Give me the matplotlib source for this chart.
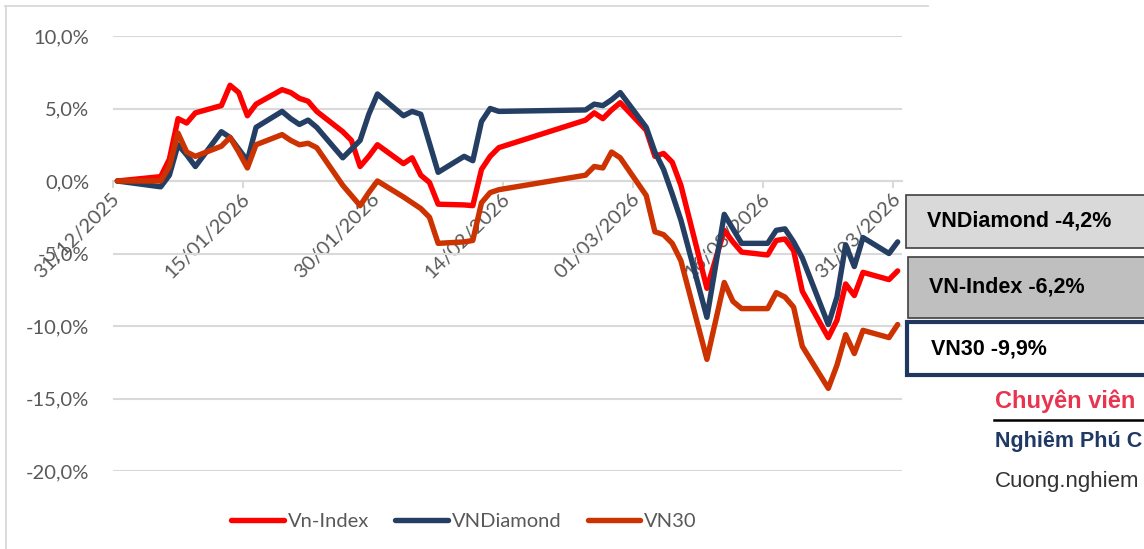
import matplotlib
matplotlib.use('Agg')
import matplotlib.pyplot as plt
import matplotlib.transforms as mtransforms
import pandas as pd
from matplotlib.patches import Rectangle
from matplotlib.lines import Line2D

# ---------------- data ----------------
dates = ['31/12/2025',
         '05/01/2026', '06/01/2026', '07/01/2026', '08/01/2026', '09/01/2026',
         '12/01/2026', '13/01/2026', '14/01/2026', '15/01/2026', '16/01/2026',
         '19/01/2026', '20/01/2026', '21/01/2026', '22/01/2026', '23/01/2026',
         '26/01/2026', '27/01/2026', '28/01/2026', '29/01/2026', '30/01/2026',
         '02/02/2026', '03/02/2026', '04/02/2026', '05/02/2026', '06/02/2026',
         '09/02/2026', '10/02/2026', '11/02/2026', '12/02/2026', '13/02/2026',
         '23/02/2026', '24/02/2026', '25/02/2026', '26/02/2026', '27/02/2026',
         '02/03/2026', '03/03/2026', '04/03/2026', '05/03/2026', '06/03/2026',
         '09/03/2026', '11/03/2026', '12/03/2026', '13/03/2026',
         '16/03/2026', '17/03/2026', '18/03/2026', '19/03/2026', '20/03/2026',
         '23/03/2026', '24/03/2026', '25/03/2026', '26/03/2026', '27/03/2026',
         '30/03/2026', '31/03/2026']

vn_index = [0.0,
            0.3, 1.5, 4.3, 4.0, 4.7,
            5.2, 6.6, 6.1, 4.5, 5.3,
            6.3, 6.1, 5.7, 5.5, 4.8,
            3.4, 2.8, 1.0, 1.7, 2.5,
            1.2, 1.6, 0.4, -0.1, -1.6,
            -1.65, -1.7, 0.8, 1.7, 2.3,
            4.2, 4.7, 4.3, 4.9, 5.4,
            3.5, 1.7, 1.9, 1.3, -0.3,
            -7.4, -3.4, -4.2, -4.9,
            -5.1, -4.1, -4.0, -4.8, -7.6,
            -10.8, -9.6, -7.1, -7.9, -6.3,
            -6.8, -6.2]

vn_diamond = [0.0,
              -0.4, 0.4, 2.5, 1.8, 1.0,
              3.4, 3.0, 2.2, 1.4, 3.7,
              4.8, 4.3, 3.9, 4.2, 3.7,
              1.6, 2.2, 2.8, 4.6, 6.0,
              4.5, 4.8, 4.6, 2.6, 0.6,
              1.7, 1.4, 4.1, 5.0, 4.8,
              4.9, 5.3, 5.2, 5.6, 6.1,
              3.7, 2.0, 0.8, -0.9, -2.7,
              -9.4, -2.3, -3.3, -4.3,
              -4.3, -3.4, -3.3, -4.2, -5.3,
              -9.9, -8.0, -4.4, -5.9, -3.9,
              -5.0, -4.2]

vn30 = [0.0,
        0.0, 1.0, 3.3, 2.0, 1.7,
        2.4, 3.0, 2.0, 0.9, 2.5,
        3.2, 2.8, 2.5, 2.6, 2.3,
        -0.3, -1.0, -1.7, -0.8, 0.0,
        -1.1, -1.5, -1.9, -2.5, -4.3,
        -4.2, -4.1, -1.5, -0.8, -0.6,
        0.4, 1.0, 0.9, 2.0, 1.6,
        -1.0, -3.5, -3.7, -4.3, -5.5,
        -12.3, -7.0, -8.3, -8.8,
        -8.8, -7.7, -8.0, -8.7, -11.4,
        -14.3, -12.7, -10.6, -11.9, -10.3,
        -10.8, -9.9]

series_names = ['Vn-Index', 'VNDiamond', 'VN30']
series_colors = ['#FF0000', '#243F63', '#CC3300']

tick_dates = ['31/12/2025', '15/01/2026', '30/01/2026', '14/02/2026',
              '01/03/2026', '16/03/2026', '31/03/2026']
y_ticks = [-20, -15, -10, -5, 0, 5, 10]

# ---------------- figure ----------------
plt.rcParams['font.family'] = ['Lato', 'DejaVu Sans']
W, H = 1144, 549
fig = plt.figure(figsize=(W / 100, H / 100), dpi=100)


def fx(x):
    return x / W


def fy(y):
    return 1 - y / H


ax = fig.add_axes([fx(113), fy(471), fx(902) - fx(113), fy(36) - fy(471)])

x = pd.to_datetime(dates, format='%d/%m/%Y') + pd.Timedelta(hours=12)
for vals, name, col in zip([vn_index, vn_diamond, vn30], series_names, series_colors):
    ax.plot(x, vals, color=col, lw=3.9, label=name,
            solid_joinstyle='round', solid_capstyle='round', zorder=3)

ax.set_ylim(-20, 10)
ax.set_xlim(pd.Timestamp('2025-12-31'), pd.Timestamp('2026-04-01'))

ticks = pd.to_datetime(tick_dates, format='%d/%m/%Y')
ax.set_xticks(ticks)
ax.set_xticklabels([t.strftime('%d/%m/%Y') for t in ticks])
ax.set_yticks(y_ticks)
ax.set_yticklabels([f'{v:.1f}%'.replace('.', ',') for v in y_ticks])

ax.grid(axis='y', color='#D9D9D9', lw=1.5)
ax.grid(axis='x', visible=False)
ax.set_axisbelow(True)
for s in ['top', 'right', 'left']:
    ax.spines[s].set_visible(False)
ax.spines['bottom'].set_position(('data', 0))
ax.spines['bottom'].set_color('#D9D9D9')
ax.spines['bottom'].set_linewidth(1.5)
ax.spines['bottom'].set_zorder(1)

ax.tick_params(axis='y', length=0, pad=17, labelsize=14.5, labelcolor='#595959')
ax.tick_params(axis='x', length=5, width=1.5, color='#D9D9D9', pad=6,
               labelsize=14.5, labelcolor='#595959')
shift = mtransforms.ScaledTranslation(4 / 100, 0, fig.dpi_scale_trans)
for lab in ax.get_xticklabels():
    lab.set_rotation(45)
    lab.set_ha('right')
    lab.set_va('center')
    lab.set_rotation_mode('anchor')
    lab.set_transform(lab.get_transform() + shift)

handles, labels = ax.get_legend_handles_labels()
fig.legend(handles, labels, loc='center', bbox_to_anchor=(fx(464), fy(521)),
           ncol=3, frameon=False, fontsize=14.5, handlelength=2.6,
           handletextpad=0.2, columnspacing=1.3, labelcolor='#595959',
           borderpad=0)

# chart-area border (top and left)
fig.add_artist(Line2D([fx(5), fx(928)], [fy(6), fy(6)], color='#D9D9D9',
                      lw=1.3, transform=fig.transFigure))
fig.add_artist(Line2D([fx(6), fx(6)], [fy(6), 0], color='#D9D9D9',
                      lw=1.3, transform=fig.transFigure))

# ---------------- right-side boxes ----------------
def pct(v):
    return f'{v:.1f}%'.replace('.', ',')


boxes = [
    (906, 195, 248, '#D9D9D9', '#404040', 1.2, 927, f'VNDiamond {pct(vn_diamond[-1])}'),
    (908, 257, 318, '#BFBFBF', '#404040', 1.2, 929, f'VN-Index {pct(vn_index[-1])}'),
    (907, 322, 375, '#FFFFFF', '#203860', 3.0, 931, f'VN30 {pct(vn30[-1])}'),
]
for x0, y0, y1, fc, ec, lw, tx, txt in boxes:
    fig.add_artist(Rectangle((fx(x0), fy(y1)), fx(1170) - fx(x0), fy(y0) - fy(y1),
                             transform=fig.transFigure, fc=fc, ec=ec, lw=lw))
    fig.text(fx(tx), fy((y0 + y1) / 2), txt, ha='left', va='center',
             fontsize=15.5, fontweight='bold', family='Liberation Sans',
             color='black')

fig.text(fx(995), fy(401), 'Chuyên viên', ha='left', va='center', fontsize=17,
         fontweight='bold', family='Liberation Sans', color='#E8344E')
fig.add_artist(Line2D([fx(994), fx(1144)], [fy(419.5), fy(419.5)], color='black',
                      lw=1.8, transform=fig.transFigure))
fig.text(fx(995), fy(442), 'Nghiêm Phú C', ha='left', va='center', fontsize=15.5,
         fontweight='bold', family='Liberation Sans', color='#1F3864')
fig.text(fx(995), fy(481), 'Cuong.nghiem', ha='left', va='center', fontsize=16,
         family='Liberation Sans', color='#333333')

fig.savefig('out.png', dpi=100)
